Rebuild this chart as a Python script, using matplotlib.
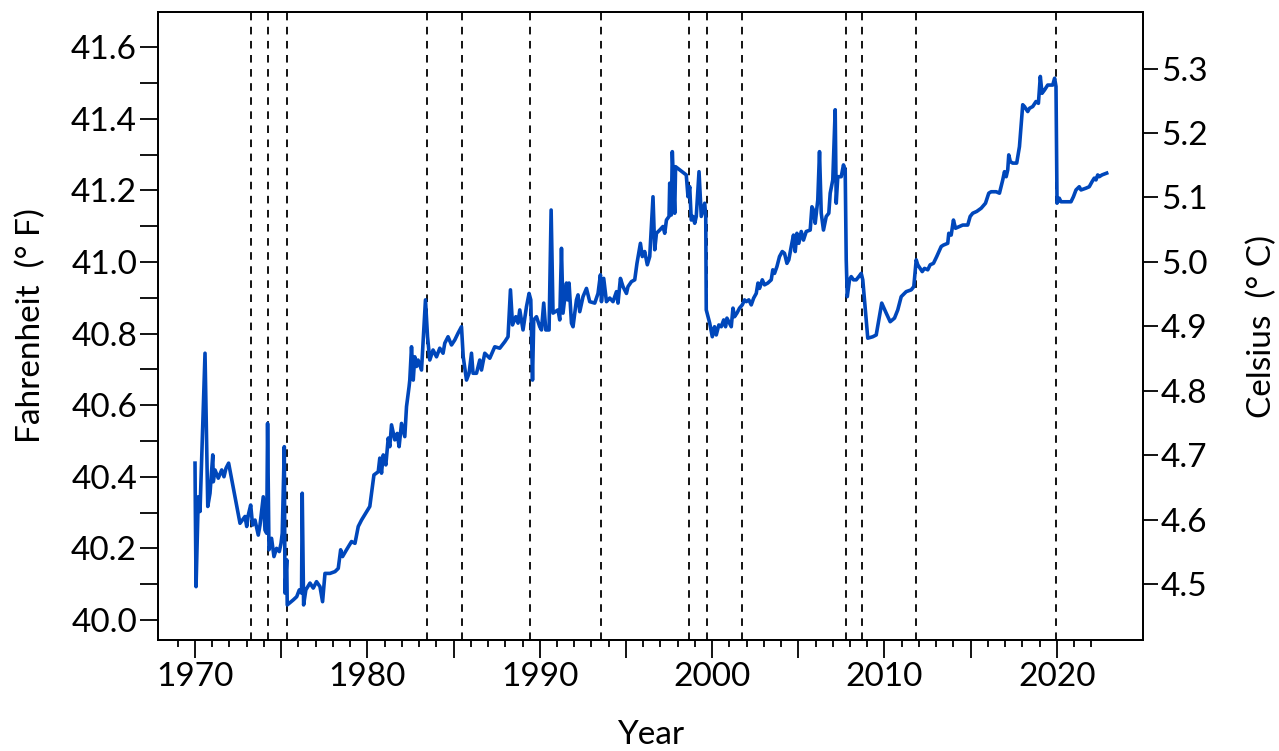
import numpy as np
import matplotlib
matplotlib.use("Agg")
from matplotlib import pyplot as plt
from matplotlib.ticker import FixedLocator, FixedFormatter

plt.rcParams["font.family"] = ["Lato", "DejaVu Sans"]

# station / instrument change dates (dashed lines)
breaks = [1973.25, 1974.23, 1975.34, 1983.45, 1985.48, 1989.42, 1993.54,
          1998.64, 1999.68, 2001.71, 2007.74, 2008.72, 2011.85, 2019.97]

years = [
    1970.00, 1970.02, 1970.06, 1970.19, 1970.29, 1970.58, 1970.74, 1970.87, 1971.03, 1971.06,
    1971.16, 1971.35, 1971.55, 1971.68, 1971.80, 1971.95, 1972.61, 1972.90, 1973.00, 1973.09,
    1973.23, 1973.34, 1973.48, 1973.67, 1973.77, 1973.96, 1974.06, 1974.16, 1974.21, 1974.29,
    1974.44, 1974.58, 1974.73, 1974.89, 1974.99, 1975.06, 1975.18, 1975.22, 1975.32, 1975.35,
    1975.70, 1975.90, 1976.05, 1976.18, 1976.22, 1976.30, 1976.43, 1976.67, 1976.86, 1977.05,
    1977.25, 1977.40, 1977.54, 1977.83, 1978.12, 1978.31, 1978.45, 1978.56, 1978.79, 1979.08,
    1979.28, 1979.47, 1979.66, 1980.14, 1980.38, 1980.63, 1980.72, 1980.82, 1980.92, 1981.07,
    1981.21, 1981.30, 1981.40, 1981.59, 1981.73, 1981.84, 1981.98, 1982.17, 1982.27, 1982.42,
    1982.46, 1982.56, 1982.66, 1982.75, 1982.85, 1982.94, 1983.14, 1983.37, 1983.49, 1983.62,
    1983.81, 1984.01, 1984.20, 1984.39, 1984.49, 1984.68, 1984.88, 1985.07, 1985.26, 1985.46,
    1985.56, 1985.75, 1985.90, 1986.04, 1986.13, 1986.33, 1986.52, 1986.62, 1986.81, 1987.10,
    1987.39, 1987.68, 1987.97, 1988.16, 1988.30, 1988.42, 1988.61, 1988.74, 1988.84, 1989.03,
    1989.23, 1989.38, 1989.48, 1989.58, 1989.65, 1989.81, 1990.00, 1990.10, 1990.23, 1990.35,
    1990.54, 1990.66, 1990.77, 1991.06, 1991.16, 1991.26, 1991.35, 1991.55, 1991.61, 1991.70,
    1991.84, 1991.93, 1992.13, 1992.22, 1992.32, 1992.51, 1992.71, 1992.90, 1993.19, 1993.38,
    1993.52, 1993.58, 1993.71, 1993.87, 1994.06, 1994.25, 1994.45, 1994.54, 1994.68, 1994.83,
    1995.03, 1995.12, 1995.32, 1995.51, 1995.64, 1995.84, 1995.95, 1996.09, 1996.24, 1996.38,
    1996.57, 1996.67, 1996.77, 1996.96, 1997.15, 1997.25, 1997.35, 1997.50, 1997.54, 1997.63,
    1997.69, 1997.83, 1997.88, 1998.12, 1998.50, 1998.60, 1998.70, 1998.79, 1998.89, 1998.99,
    1999.08, 1999.24, 1999.37, 1999.47, 1999.57, 1999.63, 1999.66, 1999.86, 2000.01, 2000.14,
    2000.24, 2000.39, 2000.53, 2000.67, 2000.78, 2000.86, 2001.01, 2001.11, 2001.21, 2001.30,
    2001.44, 2001.59, 2001.75, 2001.88, 2001.98, 2002.13, 2002.27, 2002.41, 2002.56, 2002.66,
    2002.75, 2002.91, 2003.04, 2003.23, 2003.43, 2003.52, 2003.62, 2003.76, 2003.91, 2004.07,
    2004.20, 2004.34, 2004.45, 2004.59, 2004.72, 2004.82, 2004.92, 2005.03, 2005.17, 2005.30,
    2005.46, 2005.69, 2005.79, 2005.88, 2005.98, 2006.13, 2006.23, 2006.33, 2006.46, 2006.62,
    2006.77, 2006.85, 2007.00, 2007.14, 2007.20, 2007.29, 2007.49, 2007.62, 2007.72, 2007.78,
    2007.84, 2007.97, 2008.07, 2008.20, 2008.36, 2008.51, 2008.65, 2008.74, 2009.03, 2009.32,
    2009.52, 2009.84, 2010.10, 2010.33, 2010.58, 2010.77, 2010.97, 2011.26, 2011.55, 2011.70,
    2011.84, 2011.93, 2012.07, 2012.19, 2012.32, 2012.51, 2012.65, 2012.84, 2013.03, 2013.29,
    2013.42, 2013.67, 2013.73, 2013.87, 2014.00, 2014.12, 2014.35, 2014.54, 2014.83, 2014.97,
    2015.12, 2015.35, 2015.61, 2015.86, 2016.05, 2016.19, 2016.48, 2016.67, 2016.86, 2016.96,
    2017.06, 2017.15, 2017.21, 2017.30, 2017.44, 2017.67, 2017.83, 2018.02, 2018.12, 2018.31,
    2018.41, 2018.60, 2018.79, 2018.93, 2019.04, 2019.14, 2019.28, 2019.47, 2019.76, 2019.87,
    2019.95, 2020.01, 2020.14, 2020.24, 2020.53, 2020.82, 2020.96, 2021.11, 2021.30, 2021.40,
    2021.69, 2021.88, 2022.04, 2022.17, 2022.27, 2022.37, 2022.46, 2022.62, 2022.89,
]

temp_f = [
    40.438, 40.303, 40.093, 40.344, 40.303, 40.745, 40.317, 40.354, 40.461, 40.386,
    40.419, 40.396, 40.419, 40.400, 40.424, 40.438, 40.270, 40.289, 40.261, 40.293,
    40.321, 40.265, 40.279, 40.237, 40.265, 40.344, 40.251, 40.242, 40.549, 40.196,
    40.228, 40.177, 40.200, 40.191, 40.214, 40.242, 40.484, 40.075, 40.168, 40.042,
    40.056, 40.065, 40.084, 40.075, 40.354, 40.042, 40.084, 40.103, 40.089, 40.107,
    40.093, 40.051, 40.130, 40.130, 40.135, 40.144, 40.196, 40.177, 40.196, 40.219,
    40.214, 40.261, 40.279, 40.317, 40.405, 40.414, 40.452, 40.410, 40.461, 40.433,
    40.508, 40.484, 40.545, 40.503, 40.521, 40.484, 40.549, 40.512, 40.596, 40.652,
    40.670, 40.763, 40.670, 40.735, 40.708, 40.726, 40.698, 40.894, 40.791, 40.726,
    40.754, 40.735, 40.759, 40.745, 40.773, 40.791, 40.768, 40.782, 40.801, 40.819,
    40.735, 40.670, 40.689, 40.745, 40.689, 40.689, 40.726, 40.698, 40.745, 40.731,
    40.763, 40.759, 40.777, 40.791, 40.922, 40.824, 40.847, 40.829, 40.866, 40.810,
    40.875, 40.912, 40.894, 40.670, 40.838, 40.847, 40.819, 40.810, 40.885, 40.810,
    40.810, 41.145, 40.857, 40.866, 40.838, 41.038, 40.857, 40.941, 40.894, 40.941,
    40.829, 40.819, 40.894, 40.908, 40.861, 40.903, 40.926, 40.889, 40.885, 40.912,
    40.964, 40.889, 40.954, 40.889, 40.899, 40.889, 40.917, 40.885, 40.954, 40.931,
    40.912, 40.931, 40.945, 40.950, 40.996, 41.052, 41.015, 41.029, 40.992, 41.015,
    41.182, 41.034, 41.080, 41.089, 41.099, 41.080, 41.117, 41.127, 41.220, 41.131,
    41.308, 41.136, 41.266, 41.257, 41.243, 41.182, 41.210, 41.117, 41.127, 41.108,
    41.127, 41.252, 41.127, 41.145, 41.164, 41.127, 40.866, 40.829, 40.791, 40.819,
    40.796, 40.824, 40.819, 40.838, 40.819, 40.843, 40.829, 40.819, 40.871, 40.847,
    40.857, 40.871, 40.880, 40.894, 40.889, 40.894, 40.880, 40.899, 40.912, 40.941,
    40.926, 40.950, 40.936, 40.941, 40.950, 40.978, 40.968, 40.987, 41.015, 41.029,
    41.024, 40.996, 41.006, 41.043, 41.075, 41.029, 41.080, 41.052, 41.085, 41.061,
    41.085, 41.089, 41.154, 41.145, 41.108, 41.173, 41.308, 41.136, 41.089, 41.127,
    41.136, 41.192, 41.229, 41.425, 41.164, 41.238, 41.238, 41.271, 41.257, 41.006,
    40.903, 40.950, 40.959, 40.950, 40.950, 40.959, 40.968, 40.950, 40.787, 40.791,
    40.796, 40.885, 40.857, 40.833, 40.843, 40.866, 40.903, 40.917, 40.922, 40.931,
    41.006, 40.992, 40.982, 40.973, 40.982, 40.978, 40.992, 40.996, 41.015, 41.043,
    41.047, 41.052, 41.080, 41.075, 41.117, 41.094, 41.099, 41.103, 41.103, 41.127,
    41.136, 41.141, 41.150, 41.164, 41.192, 41.196, 41.196, 41.192, 41.229, 41.252,
    41.238, 41.257, 41.299, 41.280, 41.276, 41.276, 41.322, 41.439, 41.434, 41.420,
    41.429, 41.434, 41.448, 41.443, 41.518, 41.471, 41.480, 41.494, 41.494, 41.513,
    41.490, 41.164, 41.178, 41.168, 41.168, 41.168, 41.182, 41.201, 41.210, 41.201,
    41.206, 41.210, 41.224, 41.234, 41.229, 41.243, 41.238, 41.243, 41.248,
]

f_ticks = [40.0, 40.2, 40.4, 40.6, 40.8, 41.0, 41.2, 41.4, 41.6]
c_ticks = [4.5, 4.6, 4.7, 4.8, 4.9, 5.0, 5.1, 5.2, 5.3]
year_labels = ["1970", "", "1980", "", "1990", "", "2000", "", "2010", "", "2020"]

fig = plt.figure(figsize=(12.79, 7.51), dpi=100)
ax = fig.add_axes([0.1235, 0.1478, 0.7702, 0.8362])

for b in breaks:
    ax.axvline(b, color="black", lw=1.3, ls=(0, (4.2, 3.6)), zorder=1)

ax.plot(years, temp_f, color="#0047bb", lw=2.6, zorder=2)

ylo, yhi = 39.944, 41.698
ax.set_xlim(1967.85, 2025.0)
ax.set_ylim(ylo, yhi)

ax.xaxis.set_major_locator(FixedLocator(np.arange(1970, 2021, 5)))
ax.xaxis.set_major_formatter(FixedFormatter(year_labels))
ax.xaxis.set_minor_locator(FixedLocator(np.arange(1969, 2023, 1)))
ax.yaxis.set_major_locator(FixedLocator(f_ticks))
ax.yaxis.set_major_formatter(FixedFormatter(["%.1f" % v for v in f_ticks]))
ax.yaxis.set_minor_locator(FixedLocator(np.arange(40.1, 41.6, 0.2)))

ax.tick_params(axis="x", which="major", length=13, width=1.3, labelsize=24, pad=3)
ax.tick_params(axis="x", which="minor", length=5, width=1.3)
ax.tick_params(axis="y", which="both", length=13, width=1.3, labelsize=24, pad=2)
for s in ax.spines.values():
    s.set_linewidth(1.3)

ax.set_xlabel("Year", fontsize=24, labelpad=20)
ax.set_ylabel("Fahrenheit  (° F)", fontsize=24, labelpad=18)

ax2 = ax.twinx()
ax2.set_ylim((ylo - 32) * 5 / 9, (yhi - 32) * 5 / 9)
ax2.yaxis.set_major_locator(FixedLocator(c_ticks))
ax2.yaxis.set_major_formatter(FixedFormatter(["%.1f" % v for v in c_ticks]))
ax2.tick_params(axis="y", length=11, width=1.3, labelsize=24, pad=2)
ax2.set_ylabel("Celsius  (° C)", fontsize=24, labelpad=28)
for s in ax2.spines.values():
    s.set_linewidth(1.3)

fig.savefig("out.png", dpi=100)
